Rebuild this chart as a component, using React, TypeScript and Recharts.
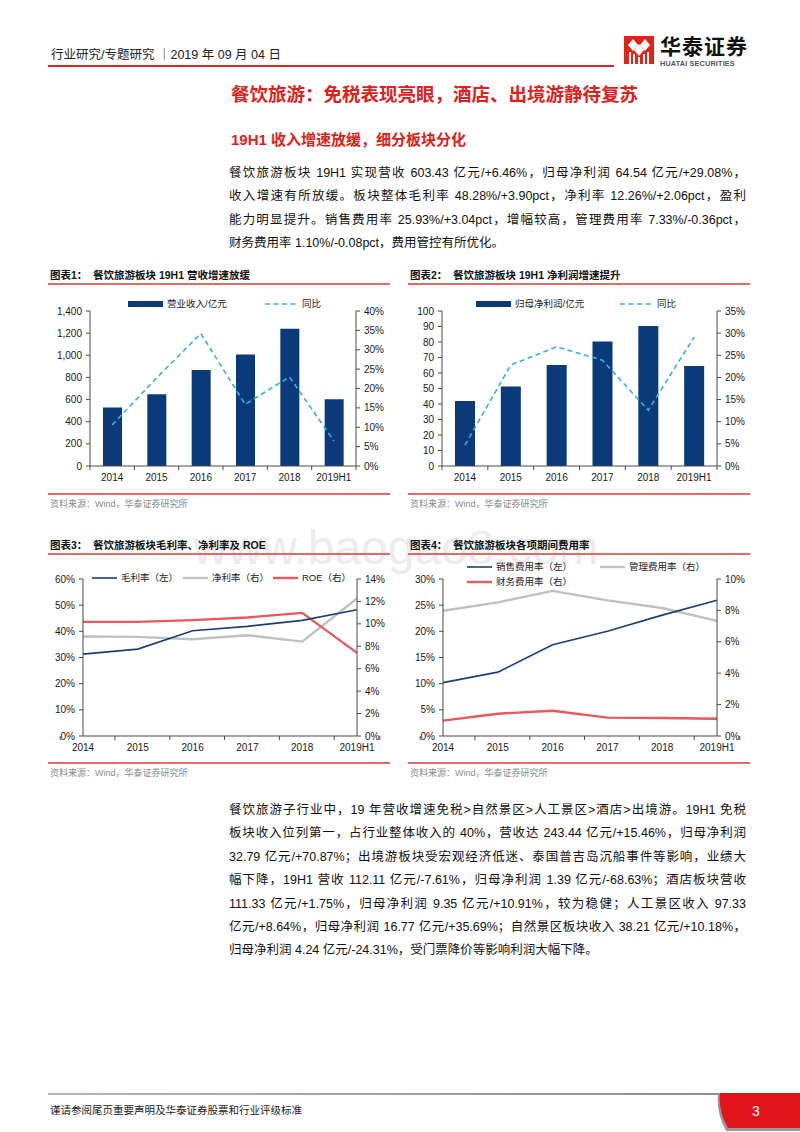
import React from "react";
import { ComposedChart, Bar, Line, XAxis, YAxis } from "recharts";

// categories
const years = ["2014", "2015", "2016", "2017", "2018", "2019H1"];

// 图表1 营业收入 / 同比
const revenue = [528, 649, 868, 1006, 1240, 603.43];
const revenueYoy = [10.6, 22.7, 34.2, 15.9, 23.0, 6.46];
// 图表2 归母净利润 / 同比
const netProfit = [42.0, 51.3, 65.2, 80.3, 90.3, 64.54];
const netProfitYoy = [4.7, 22.8, 26.9, 23.9, 12.6, 29.08];
// 图表3 毛利率 / 净利率 / ROE
const grossMargin = [31.3, 33.2, 40.2, 41.9, 44.2, 48.28];
const netMargin = [8.87, 8.84, 8.63, 8.99, 8.42, 12.26];
const roe = [10.18, 10.18, 10.33, 10.57, 10.98, 7.41];
// 图表4 销售 / 管理 / 财务费用率
const sellingRate = [10.2, 12.2, 17.45, 20.0, 23.1, 25.93];
const adminRate = [7.98, 8.51, 9.24, 8.64, 8.15, 7.33];
const financeRate = [0.98, 1.42, 1.61, 1.17, 1.15, 1.1];

// axis ticks
const revenueTicks = [0, 200, 400, 600, 800, 1000, 1200, 1400];
const revenueYoyTicks = [0, 5, 10, 15, 20, 25, 30, 35, 40];
const profitTicks = [0, 10, 20, 30, 40, 50, 60, 70, 80, 90, 100];
const profitYoyTicks = [0, 5, 10, 15, 20, 25, 30, 35];
const marginTicks = [0, 10, 20, 30, 40, 50, 60];
const roeTicks = [0, 2, 4, 6, 8, 10, 12, 14];
const sellingTicks = [0, 5, 10, 15, 20, 25, 30];
const expenseTicks = [0, 2, 4, 6, 8, 10];

// legend names
const revenueNames = ["营业收入/亿元", "同比"];
const profitNames = ["归母净利润/亿元", "同比"];
const marginNames = ["毛利率（左）", "净利率（右）", "ROE（右）"];
const expenseNames = ["销售费用率（左）", "管理费用率（右）", "财务费用率（右）"];

// page text
const headerText = "行业研究/专题研究 ｜2019 年 09 月 04 日";
const pageTitle = "餐饮旅游：免税表现亮眼，酒店、出境游静待复苏";
const sectionTitle = "19H1 收入增速放缓，细分板块分化";
const introLines = [
  "餐饮旅游板块 19H1 实现营收 603.43 亿元/+6.46%，归母净利润 64.54 亿元/+29.08%，",
  "收入增速有所放缓。板块整体毛利率 48.28%/+3.90pct，净利率 12.26%/+2.06pct，盈利",
  "能力明显提升。销售费用率 25.93%/+3.04pct，增幅较高，管理费用率 7.33%/-0.36pct，",
  "财务费用率 1.10%/-0.08pct，费用管控有所优化。",
];
const detailLines = [
  "餐饮旅游子行业中，19 年营收增速免税>自然景区>人工景区>酒店>出境游。19H1 免税",
  "板块收入位列第一，占行业整体收入的 40%，营收达 243.44 亿元/+15.46%，归母净利润",
  "32.79 亿元/+70.87%；出境游板块受宏观经济低迷、泰国普吉岛沉船事件等影响，业绩大",
  "幅下降，19H1 营收 112.11 亿元/-7.61%，归母净利润 1.39 亿元/-68.63%；酒店板块营收",
  "111.33 亿元/+1.75%，归母净利润 9.35 亿元/+10.91%，较为稳健；人工景区收入 97.33",
  "亿元/+8.64%，归母净利润 16.77 亿元/+35.69%；自然景区板块收入 38.21 亿元/+10.18%，",
  "归母净利润 4.24 亿元/-24.31%，受门票降价等影响利润大幅下降。",
];
const chartTitles = [
  "餐饮旅游板块 19H1 营收增速放缓",
  "餐饮旅游板块 19H1 净利润增速提升",
  "餐饮旅游板块毛利率、净利率及 ROE",
  "餐饮旅游板块各项期间费用率",
];
const sourceText = "资料来源：Wind，华泰证券研究所";
const footerText = "谨请参阅尾页重要声明及华泰证券股票和行业评级标准";

const revenueRows = years.map((year, i) => ({ year, value: revenue[i], yoy: revenueYoy[i] }));
const profitRows = years.map((year, i) => ({ year, value: netProfit[i], yoy: netProfitYoy[i] }));
const marginRows = years.map((year, i) => ({ year, a: grossMargin[i], b: netMargin[i], c: roe[i] }));
const expenseRows = years.map((year, i) => ({ year, a: sellingRate[i], b: adminRate[i], c: financeRate[i] }));

const LATIN = '"Liberation Sans", Arial, "Noto Sans CJK SC", sans-serif';
const RED = "#e0201b";
const LINE_RED = "#e46a6a";
const AXIS = "#4a4a4a";
const NAVY = "#0b3a7a";
const SKY = "#35b0e3";
const GREY = "#c0c0c0";
const ROSE = "#e9585b";
const DEEP = "#1e3f74";

const tickText = { fontSize: 10, fill: "#1a1a1a", fontFamily: LATIN };
const pct = (v: number) => `${v}%`;
const thousands = (v: number) => v.toLocaleString("en-US");

// category label at the band centre, tick marks at band edges
const CategoryTick = (props: any) => {
  const { x, y, payload, index, visibleTicksCount, width } = props;
  const half =
    typeof payload?.offset === "number" && payload.offset > 0
      ? payload.offset
      : width / visibleTicksCount / 2;
  const last = index === visibleTicksCount - 1;
  return (
    <g>
      <line x1={x - half} x2={x - half} y1={y} y2={y + 4} stroke={AXIS} />
      {last && <line x1={x + half} x2={x + half} y1={y} y2={y + 4} stroke={AXIS} />}
      <text x={x} y={y + 8} dy="0.71em" textAnchor="middle" {...tickText}>
        {payload.value}
      </text>
    </g>
  );
};

const yAxisCommon = {
  interval: 0 as const,
  tickSize: 4,
  tickMargin: 4,
  axisLine: { stroke: AXIS },
  tickLine: { stroke: AXIS },
  tick: tickText,
};

type BarLineProps = {
  rows: any[];
  width: number;
  leftWidth: number;
  leftTicks: number[];
  rightTicks: number[];
  leftFormat?: (v: number) => string;
  barSize: number;
};

const BarLineChart = ({ rows, width, leftWidth, leftTicks, rightTicks, leftFormat, barSize }: BarLineProps) => (
  <ComposedChart width={width} height={196} data={rows} margin={{ top: 21, right: 0, bottom: 0, left: 0 }}>
    <XAxis
      dataKey="year"
      interval={0}
      height={20}
      tickSize={0}
      tickMargin={0}
      axisLine={{ stroke: AXIS }}
      tickLine={false}
      tick={(p: any) => <CategoryTick {...p} />}
    />
    <YAxis
      yAxisId="left"
      width={leftWidth}
      domain={[0, leftTicks[leftTicks.length - 1]]}
      ticks={leftTicks}
      tickFormatter={leftFormat}
      {...yAxisCommon}
    />
    <YAxis
      yAxisId="right"
      orientation="right"
      width={44}
      domain={[0, rightTicks[rightTicks.length - 1]]}
      ticks={rightTicks}
      tickFormatter={pct}
      {...yAxisCommon}
    />
    <Bar yAxisId="left" dataKey="value" fill={NAVY} barSize={barSize} isAnimationActive={false} />
    <Line
      yAxisId="right"
      type="linear"
      dataKey="yoy"
      stroke={SKY}
      strokeWidth={1.6}
      strokeDasharray="5 3.5"
      dot={false}
      isAnimationActive={false}
    />
  </ComposedChart>
);

type TrioProps = {
  rows: any[];
  width: number;
  leftWidth: number;
  rightWidth: number;
  leftTicks: number[];
  rightTicks: number[];
};

const TrioChart = ({ rows, width, leftWidth, rightWidth, leftTicks, rightTicks }: TrioProps) => (
  <ComposedChart width={width} height={188} data={rows} margin={{ top: 9, right: 0, bottom: 0, left: 0 }}>
    <XAxis
      dataKey="year"
      interval={0}
      height={22}
      tickSize={0}
      tickMargin={0}
      axisLine={{ stroke: AXIS }}
      tickLine={false}
      tick={(p: any) => <CategoryTick {...p} />}
    />
    <YAxis
      yAxisId="left"
      width={leftWidth}
      domain={[0, leftTicks[leftTicks.length - 1]]}
      ticks={leftTicks}
      tickFormatter={pct}
      {...yAxisCommon}
    />
    <YAxis
      yAxisId="right"
      orientation="right"
      width={rightWidth}
      domain={[0, rightTicks[rightTicks.length - 1]]}
      ticks={rightTicks}
      tickFormatter={pct}
      {...yAxisCommon}
    />
    <Line yAxisId="right" type="linear" dataKey="b" stroke={GREY} strokeWidth={2.4} dot={false} isAnimationActive={false} />
    <Line yAxisId="right" type="linear" dataKey="c" stroke={ROSE} strokeWidth={2.4} dot={false} isAnimationActive={false} />
    <Line yAxisId="left" type="linear" dataKey="a" stroke={DEEP} strokeWidth={1.6} dot={false} isAnimationActive={false} />
  </ComposedChart>
);

const Txt = ({ x, y, size, children, style }: any) => (
  <div
    style={{
      position: "absolute",
      left: x,
      top: y - size * 0.7,
      height: size * 1.4,
      lineHeight: `${size * 1.4}px`,
      fontSize: size,
      whiteSpace: "nowrap",
      fontFamily: LATIN,
      ...style,
    }}
  >
    {children}
  </div>
);

const LegendKey = ({ x, y, kind, color, label, w = 25 }: any) => (
  <div style={{ position: "absolute", left: x, top: y - 6, height: 12, display: "flex", alignItems: "center", whiteSpace: "nowrap" }}>
    <svg width={w} height={8} style={{ display: "block" }}>
      {kind === "bar" && <rect x={0} y={1} width={w} height={6} fill={color} />}
      {kind === "dash" && <line x1={0} x2={w} y1={4} y2={4} stroke={color} strokeWidth={1.6} strokeDasharray="5 3.5" />}
      {kind === "line" && <line x1={0} x2={w} y1={4} y2={4} stroke={color} strokeWidth={color === DEEP ? 1.6 : 2.4} />}
    </svg>
    <span style={{ marginLeft: 4, fontSize: 9.5, lineHeight: "12px", color: "#222", fontFamily: LATIN }}>{label}</span>
  </div>
);

const ChartFrame = ({ x, y, right, num, title, bottom }: any) => (
  <>
    <Txt x={x} y={y} size={10.5} style={{ fontWeight: 700, color: "#111" }}>
      {`图表${num}：`}
    </Txt>
    <Txt x={x + 43} y={y} size={10.5} style={{ fontWeight: 700, color: "#111" }}>
      {title}
    </Txt>
    <div style={{ position: "absolute", left: x - 2, top: y + 8, width: right - x + 2, height: 1.5, background: LINE_RED }} />
    <div style={{ position: "absolute", left: x - 2, top: bottom, width: right - x + 2, height: 1.5, background: LINE_RED }} />
    <Txt x={x} y={bottom + 11} size={9} style={{ color: "#8a8a8a" }}>
      {sourceText}
    </Txt>
  </>
);

const Logo = () => (
  <svg width={30} height={28} style={{ position: "absolute", left: 624, top: 36 }}>
    <rect x={0} y={0} width={30} height={28} fill="#e2231a" />
    <polygon points="4,9 9,3 14,9 9,15" fill="#fff" />
    <polygon points="16,9 21,3 26,9 21,15" fill="#fff" />
    <polygon points="10,14 15,8 20,14 15,20" fill="#fff" />
    <rect x={5} y={16} width={2} height={12} fill="#fff" />
    <rect x={9} y={18} width={2} height={10} fill="#fff" />
    <rect x={19} y={18} width={2} height={10} fill="#fff" />
    <rect x={23} y={16} width={2} height={12} fill="#fff" />
    <rect x={14} y={21} width={2} height={7} fill="#fff" />
  </svg>
);

const Paragraph = ({ lines, top }: { lines: string[]; top: number }) => (
  <>
    {lines.map((line, i) => (
      <div
        key={i}
        style={{
          position: "absolute",
          left: 229,
          top: top + i * 23.4 - 10,
          width: 517,
          height: 20,
          lineHeight: "20px",
          fontSize: 12.5,
          color: "#111",
          fontFamily: LATIN,
          textAlign: "justify",
          textAlignLast: i === lines.length - 1 ? "left" : "justify",
        }}
      >
        {line}
      </div>
    ))}
  </>
);

export default function App() {
  return (
    <div style={{ position: "absolute", left: 0, top: 0, width: 800, height: 1132, background: "#fff", overflow: "hidden" }}>
      {/* watermark */}
      <Txt x={193} y={548} size={48} style={{ color: "#ececec" }}>
        www.baogao8.com
      </Txt>

      {/* header */}
      <Txt x={51} y={56} size={12.5} style={{ color: "#222" }}>
        {headerText}
      </Txt>
      <div style={{ position: "absolute", left: 48, top: 65, width: 566, height: 1.5, background: "#d9252a" }} />
      <Logo />
      <Txt x={660} y={47} size={21} style={{ fontWeight: 700, color: "#111", letterSpacing: 1 }}>
        华泰证券
      </Txt>
      <Txt x={660} y={64} size={7.3} style={{ fontWeight: 700, color: "#555", letterSpacing: 0.15 }}>
        HUATAI SECURITIES
      </Txt>

      <Txt x={231} y={95} size={18.5} style={{ fontWeight: 700, color: RED }}>
        {pageTitle}
      </Txt>
      <Txt x={231} y={139} size={15} style={{ fontWeight: 700, color: RED }}>
        {sectionTitle}
      </Txt>
      <Paragraph lines={introLines} top={173} />

      {/* chart 1 */}
      <ChartFrame x={50} y={275} right={390} num={1} title={chartTitles[0]} bottom={493} />
      <div style={{ position: "absolute", left: 40, top: 290 }}>
        <BarLineChart
          rows={revenueRows}
          width={360}
          leftWidth={50}
          leftTicks={revenueTicks}
          rightTicks={revenueYoyTicks}
          leftFormat={thousands}
          barSize={19}
        />
      </div>
      <LegendKey x={128} y={304} kind="bar" color={NAVY} label={revenueNames[0]} w={35} />
      <LegendKey x={265} y={304} kind="dash" color={SKY} label={revenueNames[1]} w={33} />

      {/* chart 2 */}
      <ChartFrame x={410} y={275} right={750} num={2} title={chartTitles[1]} bottom={493} />
      <div style={{ position: "absolute", left: 405, top: 290 }}>
        <BarLineChart
          rows={profitRows}
          width={356}
          leftWidth={37}
          leftTicks={profitTicks}
          rightTicks={profitYoyTicks}
          barSize={20}
        />
      </div>
      <LegendKey x={476} y={304} kind="bar" color={NAVY} label={profitNames[0]} w={35} />
      <LegendKey x={620} y={304} kind="dash" color={SKY} label={profitNames[1]} w={33} />

      {/* chart 3 */}
      <ChartFrame x={50} y={545} right={390} num={3} title={chartTitles[2]} bottom={762} />
      <div style={{ position: "absolute", left: 40, top: 570 }}>
        <TrioChart rows={marginRows} width={360} leftWidth={43} rightWidth={43} leftTicks={marginTicks} rightTicks={roeTicks} />
      </div>
      <LegendKey x={92} y={578} kind="line" color={DEEP} label={marginNames[0]} />
      <LegendKey x={183} y={578} kind="line" color={GREY} label={marginNames[1]} />
      <LegendKey x={273} y={578} kind="line" color={ROSE} label={marginNames[2]} />

      {/* chart 4 */}
      <ChartFrame x={410} y={545} right={750} num={4} title={chartTitles[3]} bottom={762} />
      <div style={{ position: "absolute", left: 405, top: 570 }}>
        <TrioChart rows={expenseRows} width={356} leftWidth={38} rightWidth={44} leftTicks={sellingTicks} rightTicks={expenseTicks} />
      </div>
      <LegendKey x={467} y={567} kind="line" color={DEEP} label={expenseNames[0]} />
      <LegendKey x={600} y={567} kind="line" color={GREY} label={expenseNames[1]} />
      <LegendKey x={467} y={582} kind="line" color={ROSE} label={expenseNames[2]} />

      <Paragraph lines={detailLines} top={810} />

      {/* footer */}
      <div
        style={{
          position: "absolute",
          left: 48,
          top: 1093,
          width: 690,
          height: 2,
          background: "linear-gradient(to right, #b5b5b5, #8c8c8c)",
        }}
      />
      <svg width={90} height={40} style={{ position: "absolute", left: 712, top: 1091 }}>
        <path d="M6,3 L90,3 L90,40 L14,40 Q4,22 6,3 Z" fill="#9a9a9a" />
        <path d="M8,2 L90,2 L90,37 L16,37 Q6,20 8,2 Z" fill="#e2141b" />
        <text x={40} y={25} fill="#fff" fontSize={14} fontFamily={LATIN}>
          3
        </text>
      </svg>
      <Txt x={50} y={1110} size={10.5} style={{ color: "#222" }}>
        {footerText}
      </Txt>
    </div>
  );
}
